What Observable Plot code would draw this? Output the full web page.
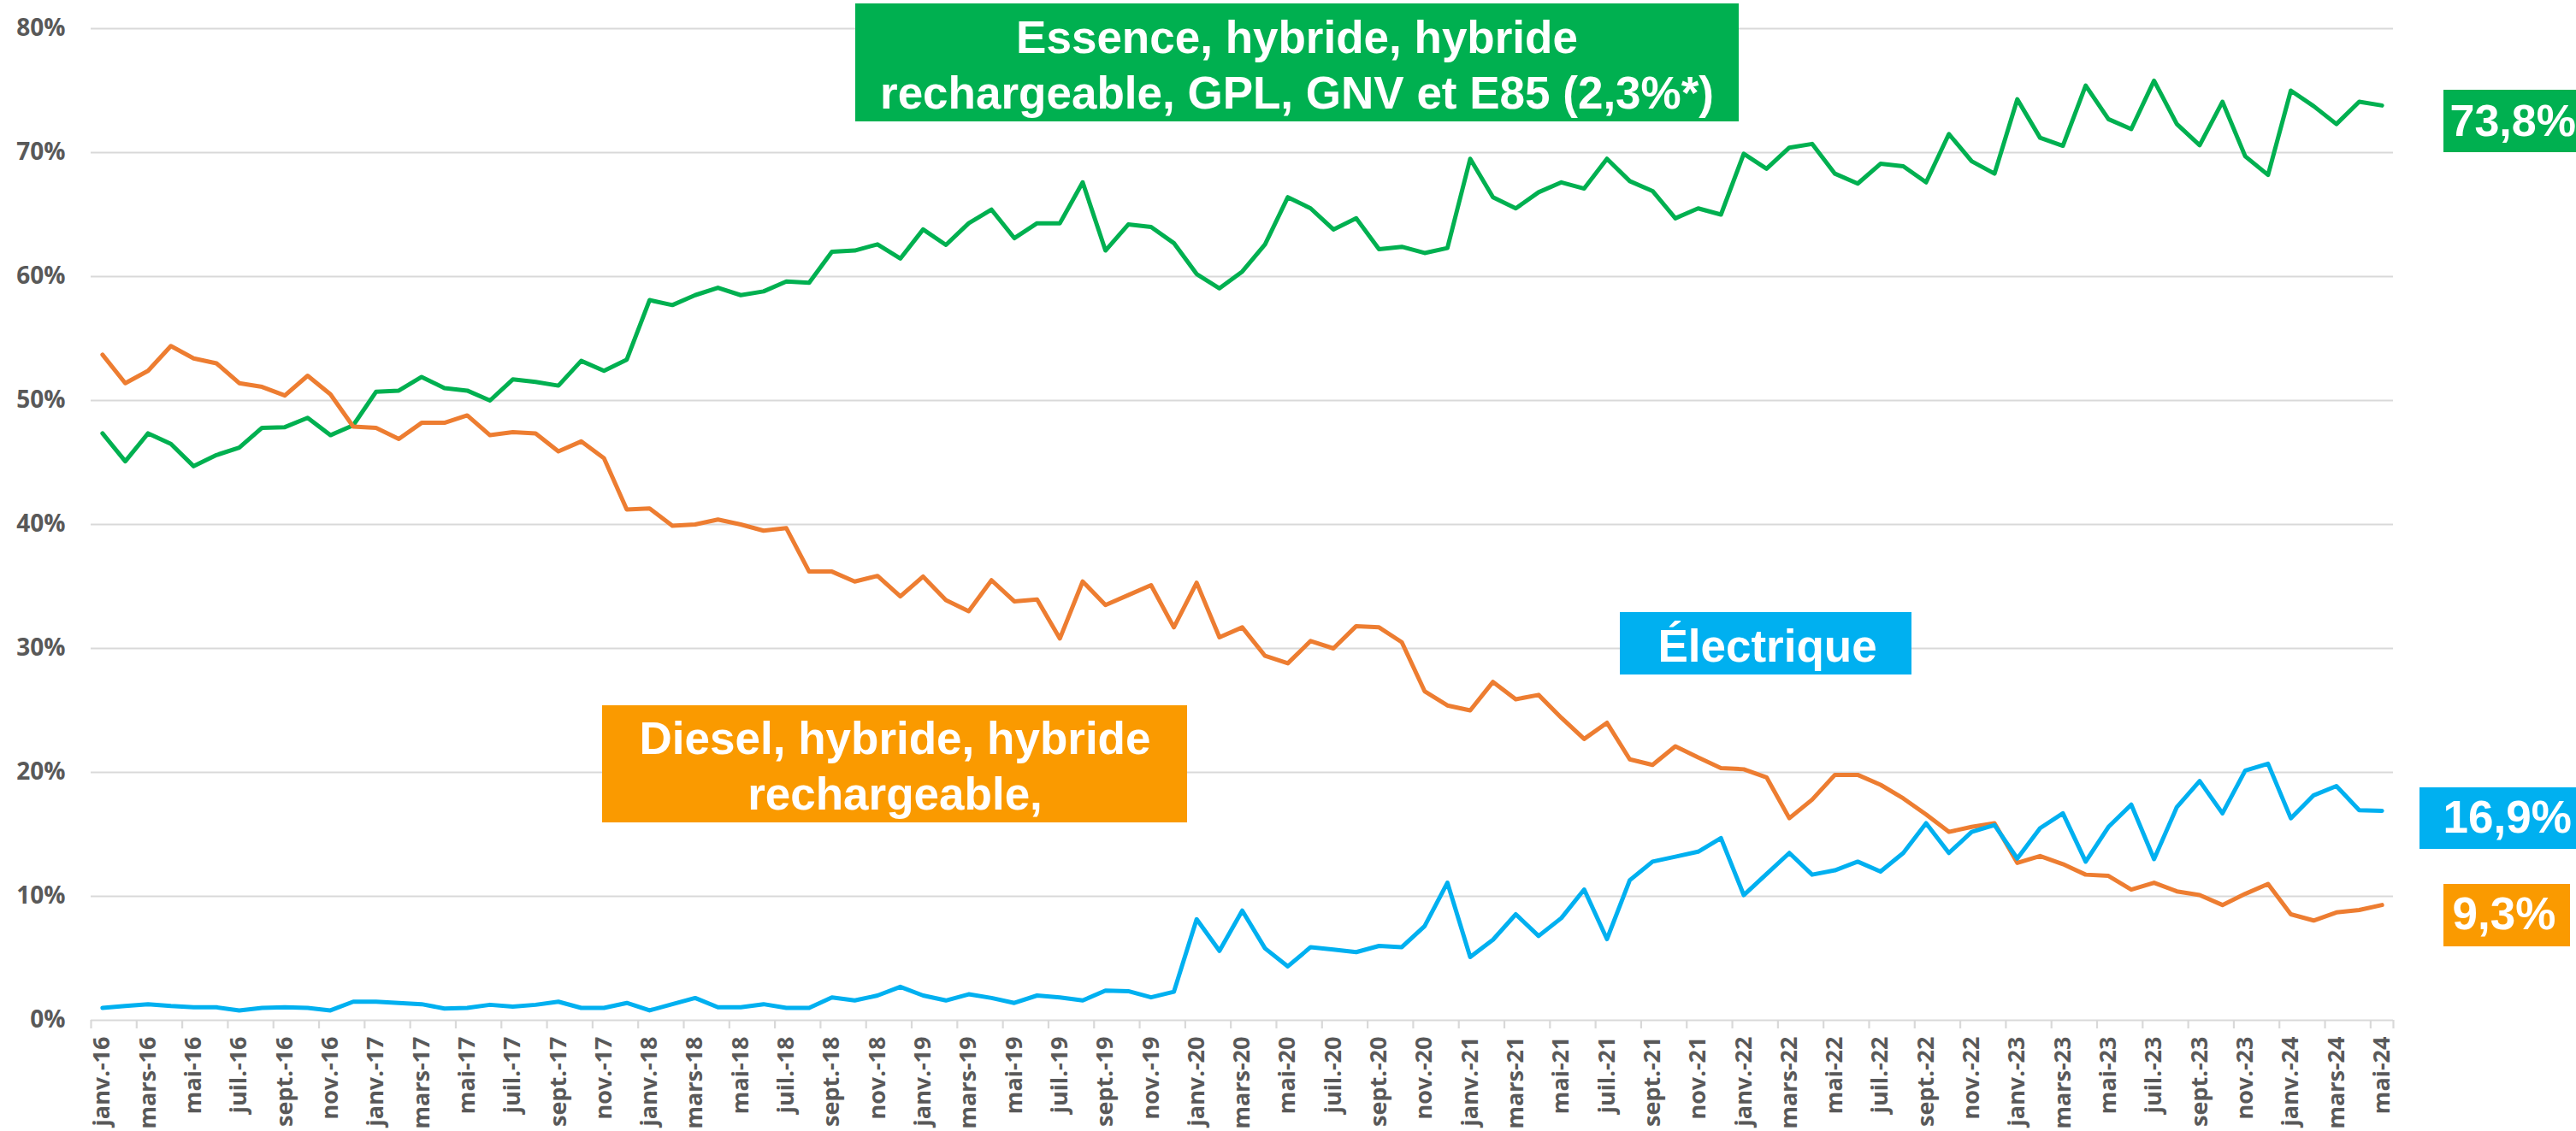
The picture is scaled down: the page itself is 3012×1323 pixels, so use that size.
<!DOCTYPE html>
<html>
<head>
<meta charset="utf-8">
<script src="https://cdn.jsdelivr.net/npm/d3@7"></script>
<script src="https://cdn.jsdelivr.net/npm/@observablehq/plot@0.6"></script>
<style>
  html, body { margin: 0; padding: 0; background: #ffffff; }
  #chart { width: 3012px; height: 1323px; overflow: hidden; }
</style>
</head>
<body>
<div id="chart"></div>
<script>
// ---- Data ----
const monthNames = ["janv.", "févr.", "mars", "avr.", "mai", "juin", "juil.", "août", "sept.", "oct.", "nov.", "déc."];
const years = ["16", "17", "18", "19", "20", "21", "22", "23", "24"];
const months = years.flatMap(y => monthNames.map(m => `${m}-${y}`)).slice(0, 101);

// Essence, hybride, hybride rechargeable, GPL, GNV et E85 (%)
const essence = [
  47.35, 45.1, 47.35, 46.5, 44.7, 45.6, 46.2, 47.8, 47.85, 48.6,
  47.2, 48.0, 50.7, 50.8, 51.9, 51.0, 50.8, 50.0, 51.7, 51.5,
  51.2, 53.2, 52.4, 53.3, 58.1, 57.7,
  58.5, 59.1, 58.5, 58.8, 59.6, 59.5, 62.0, 62.1, 62.6, 61.45,
  63.8, 62.55, 64.3, 65.4, 63.1, 64.3, 64.3, 67.6, 62.1, 64.2,
  64.0, 62.7, 60.2, 59.05, 60.4, 62.6,
  66.4, 65.5, 63.8, 64.7, 62.2, 62.4, 61.9, 62.3, 69.5, 66.4,
  65.5, 66.8, 67.6, 67.1, 69.5, 67.7, 66.9, 64.7, 65.5, 65.0,
  69.9, 68.7, 70.4, 70.7, 68.3, 67.5, 69.1,
  68.9, 67.6, 71.5, 69.3, 68.3, 74.3, 71.2, 70.55, 75.4, 72.7,
  71.9, 75.8, 72.3, 70.6, 74.1, 69.7, 68.2, 75.0, 73.75, 72.3,
  74.1, 73.8
];

// Diesel, hybride, hybride rechargeable (%)
const diesel = [
  53.7, 51.4, 52.4, 54.4, 53.4, 53.0, 51.4, 51.1, 50.4, 52.0,
  50.5, 47.9, 47.8, 46.9, 48.2, 48.2, 48.8, 47.2, 47.45, 47.35,
  45.9, 46.7, 45.35, 41.2, 41.3, 39.9,
  40.0, 40.4, 40.0, 39.5, 39.7, 36.2, 36.2, 35.4, 35.85, 34.2,
  35.8, 33.9, 33.0, 35.5, 33.8, 33.95, 30.8, 35.4, 33.5, 34.3,
  35.1, 31.7, 35.3, 30.9, 31.7, 29.4, 28.8,
  30.6, 30.0, 31.8, 31.7, 30.5, 26.55, 25.4, 25.0, 27.3, 25.9,
  26.25, 24.4, 22.7, 24.0, 21.05, 20.6, 22.1, 21.2, 20.35, 20.25,
  19.6, 16.3, 17.8, 19.8, 19.8, 19.0,
  17.9, 16.6, 15.2, 15.6, 15.9, 12.7, 13.25, 12.6, 11.75, 11.65,
  10.55, 11.1, 10.4, 10.1, 9.3, 10.2, 11.0, 8.55, 8.05, 8.7,
  8.9, 9.3
];

// Électrique (%)
const electrique = [
  1.0, 1.15, 1.3, 1.15, 1.05, 1.05, 0.8, 1.0, 1.05, 1.0,
  0.8, 1.5, 1.5, 1.4, 1.3, 0.95, 1.0, 1.25, 1.1, 1.25,
  1.5, 1.0, 1.0, 1.4, 0.8, 1.3,
  1.8, 1.05, 1.05, 1.3, 1.0, 1.0, 1.85, 1.6, 2.0, 2.7,
  2.0, 1.6, 2.1, 1.8, 1.4, 2.0, 1.85, 1.6, 2.4, 2.35,
  1.85, 2.3, 8.15, 5.6, 8.85, 5.8, 4.35,
  5.9, 5.7, 5.5, 6.0, 5.9, 7.6, 11.1, 5.1, 6.5, 8.55,
  6.8, 8.25, 10.55, 6.55, 11.3, 12.8, 13.2, 13.6, 14.7, 10.1,
  11.8, 13.5, 11.75, 12.1, 12.8, 12.0,
  13.5, 15.9, 13.5, 15.2, 15.75, 13.05, 15.5, 16.7, 12.8, 15.6,
  17.4, 13.0, 17.2, 19.3, 16.7, 20.15, 20.7, 16.3, 18.15, 18.9,
  16.95, 16.9
];

const yTicks = [0, 0.1, 0.2, 0.3, 0.4, 0.5, 0.6, 0.7, 0.8];
const boxTexts = ["Essence, hybride, hybride\nrechargeable, GPL, GNV et E85 (2,3%*)", "Diesel, hybride, hybride\nrechargeable,", "Électrique"];
const endTexts = ["73,8%", "16,9%", "9,3%"];

// ---- Build ----
const toRows = arr => arr.map((v, i) => ({i, month: months[i], v: v / 100}));
const labelIdx = months.map((m, i) => i).filter(i => i % 2 === 0);
const tickBounds = labelIdx.map(i => i - 0.5).concat([months.length - 0.5]);

// layout (pixels) of the plot frame
const W = 3012, H = 1323, ML = 106, MR = 214, MT = 33, MB = 130;
const toX = px => -0.5 + (px - ML) / (W - ML - MR) * months.length;
const toY = py => (H - MB - py) / (H - MB - MT) * 0.8;

const GREEN = "#00B050", ORANGE_LINE = "#ED7D31", ORANGE_BOX = "#FA9A00", BLUE = "#00B0F0";
const boxFont = {fontFamily: "Liberation Sans, Arial, sans-serif", fontWeight: "bold", fill: "white"};

const boxes = [
  {x1: 1000, x2: 2033, y1: 4, y2: 142, fill: GREEN, tx: 1516, ty: 73.5, text: boxTexts[0], anchor: "middle", size: 53},
  {x1: 704, x2: 1388, y1: 825, y2: 962, fill: ORANGE_BOX, tx: 1046, ty: 893.5, text: boxTexts[1], anchor: "middle", size: 53},
  {x1: 1894, x2: 2235, y1: 716, y2: 789, fill: BLUE, tx: 2066, ty: 753, text: boxTexts[2], anchor: "middle", size: 53},
  {x1: 2857, x2: 3030, y1: 105, y2: 178, fill: GREEN, tx: 2864, ty: 142, text: endTexts[0], anchor: "start", size: 52},
  {x1: 2829, x2: 3030, y1: 921, y2: 993, fill: BLUE, tx: 2856, ty: 957, text: endTexts[1], anchor: "start", size: 53},
  {x1: 2857, x2: 3005, y1: 1034, y2: 1107, fill: ORANGE_BOX, tx: 2867, ty: 1070, text: endTexts[2], anchor: "start", size: 53}
].map(b => ({...b, X1: toX(b.x1), X2: toX(b.x2), Y1: toY(b.y2), Y2: toY(b.y1), TX: toX(b.tx), TY: toY(b.ty)}));

const axisFont = {fontFamily: "Open Sans, sans-serif", fontWeight: "bold", fill: "#595959"};
const lineStyle = {x: "i", y: "v", strokeWidth: 5, strokeLinejoin: "round", strokeLinecap: "round"};

const chart = Plot.plot({
  width: W, height: H,
  marginLeft: ML, marginRight: MR, marginTop: MT, marginBottom: MB,
  style: {background: "white", overflow: "hidden"},
  x: {type: "linear", domain: [-0.5, months.length - 0.5]},
  y: {domain: [0, 0.8]},
  marks: [
    Plot.gridY(yTicks, {stroke: "#D9D9D9", strokeOpacity: 1, strokeWidth: 2.2}),
    Plot.axisY(yTicks, {tickFormat: d3.format(".0%"), tickSize: 0, tickPadding: 30, label: null, fontSize: 28, ...axisFont}),
    Plot.axisX(tickBounds, {tickSize: 10, stroke: "#D9D9D9", strokeWidth: 2.2, tickFormat: () => "", label: null}),
    Plot.axisX(labelIdx, {tickFormat: i => months[i], tickRotate: -90, tickSize: 0, tickPadding: 19, label: null, fontSize: 27, ...axisFont}),
    Plot.lineY(toRows(essence), {...lineStyle, stroke: GREEN}),
    Plot.lineY(toRows(diesel), {...lineStyle, stroke: ORANGE_LINE}),
    Plot.lineY(toRows(electrique), {...lineStyle, stroke: BLUE}),
    Plot.rect(boxes, {x1: "X1", x2: "X2", y1: "Y1", y2: "Y2", fill: "fill"}),
    Plot.text(boxes.filter(b => b.anchor === "middle"), {x: "TX", y: "TY", text: "text", textAnchor: "middle", lineAnchor: "middle", lineHeight: 1.21, fontSize: 53, ...boxFont}),
    Plot.text(boxes.filter(b => b.anchor === "start" && b.size === 53), {x: "TX", y: "TY", text: "text", textAnchor: "start", lineAnchor: "middle", fontSize: 53, ...boxFont}),
    Plot.text(boxes.filter(b => b.anchor === "start" && b.size === 52), {x: "TX", y: "TY", text: "text", textAnchor: "start", lineAnchor: "middle", fontSize: 52, ...boxFont})
  ]
});
document.getElementById("chart").appendChild(chart);
</script>
</body>
</html>
